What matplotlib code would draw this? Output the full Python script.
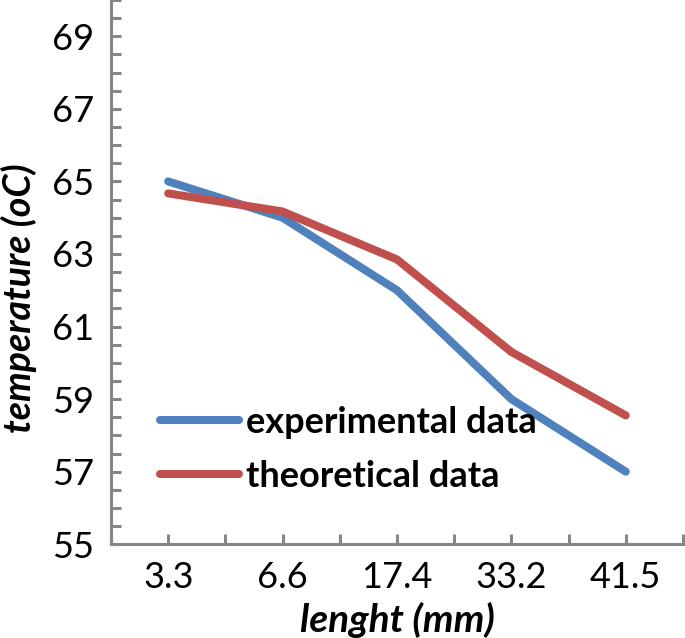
import numpy as np
import matplotlib
matplotlib.use("Agg")
import matplotlib.pyplot as plt

# data
lengths = ["3.3", "6.6", "17.4", "33.2", "41.5"]
experimental = [65.0, 64.0, 62.0, 59.0, 57.0]
theoretical = [64.67, 64.17, 62.85, 60.3, 58.55]

plt.rcParams['font.family'] = ['Lato', 'DejaVu Sans']

fig = plt.figure(figsize=(6.85, 6.38), dpi=100)
ax = fig.add_axes([0.162, 0.147, 0.835, 0.853])

x = np.arange(len(lengths))
ax.plot(x, experimental, color='#4F81BD', lw=5.8, solid_capstyle='round',
        solid_joinstyle='round', label='experimental data')
ax.plot(x, theoretical, color='#C0504D', lw=5.8, solid_capstyle='round',
        solid_joinstyle='round', label='theoretical data')

ax.set_xlim(-0.5, len(lengths) - 0.5)
ax.set_ylim(55, 70)

ax.set_xticks(x)
ax.set_xticklabels(lengths)
ax.set_xticks(np.arange(-0.5, len(lengths), 0.5), minor=True)
ax.set_yticks(np.arange(55, 70, 2))
ax.set_yticks(np.arange(55, 70.01, 0.5), minor=True)

axis_gray = '#868686'
for side in ['top', 'right']:
    ax.spines[side].set_visible(False)
for side in ['left', 'bottom']:
    ax.spines[side].set_color(axis_gray)
    ax.spines[side].set_linewidth(2.2)

ax.tick_params(which='both', direction='in', length=7, width=2.2,
               color=axis_gray)
ax.tick_params(axis='both', which='major', labelsize=26, pad=12)

ax.set_xlabel("lenght (mm)", fontsize=28, fontweight='bold', style='italic',
              labelpad=6)
ax.set_ylabel("temperature (oC)", fontsize=27, fontweight='bold',
              style='italic')
ax.yaxis.set_label_coords(-0.130, 0.452)

leg = ax.legend(loc='lower left', bbox_to_anchor=(0.085, 0.095), frameon=False,
                prop={'weight': 'bold', 'size': 26},
                handlelength=2.2, handletextpad=0.2, labelspacing=0.58,
                borderpad=0, borderaxespad=0)

plt.savefig("out.png", dpi=100)
plt.close()
